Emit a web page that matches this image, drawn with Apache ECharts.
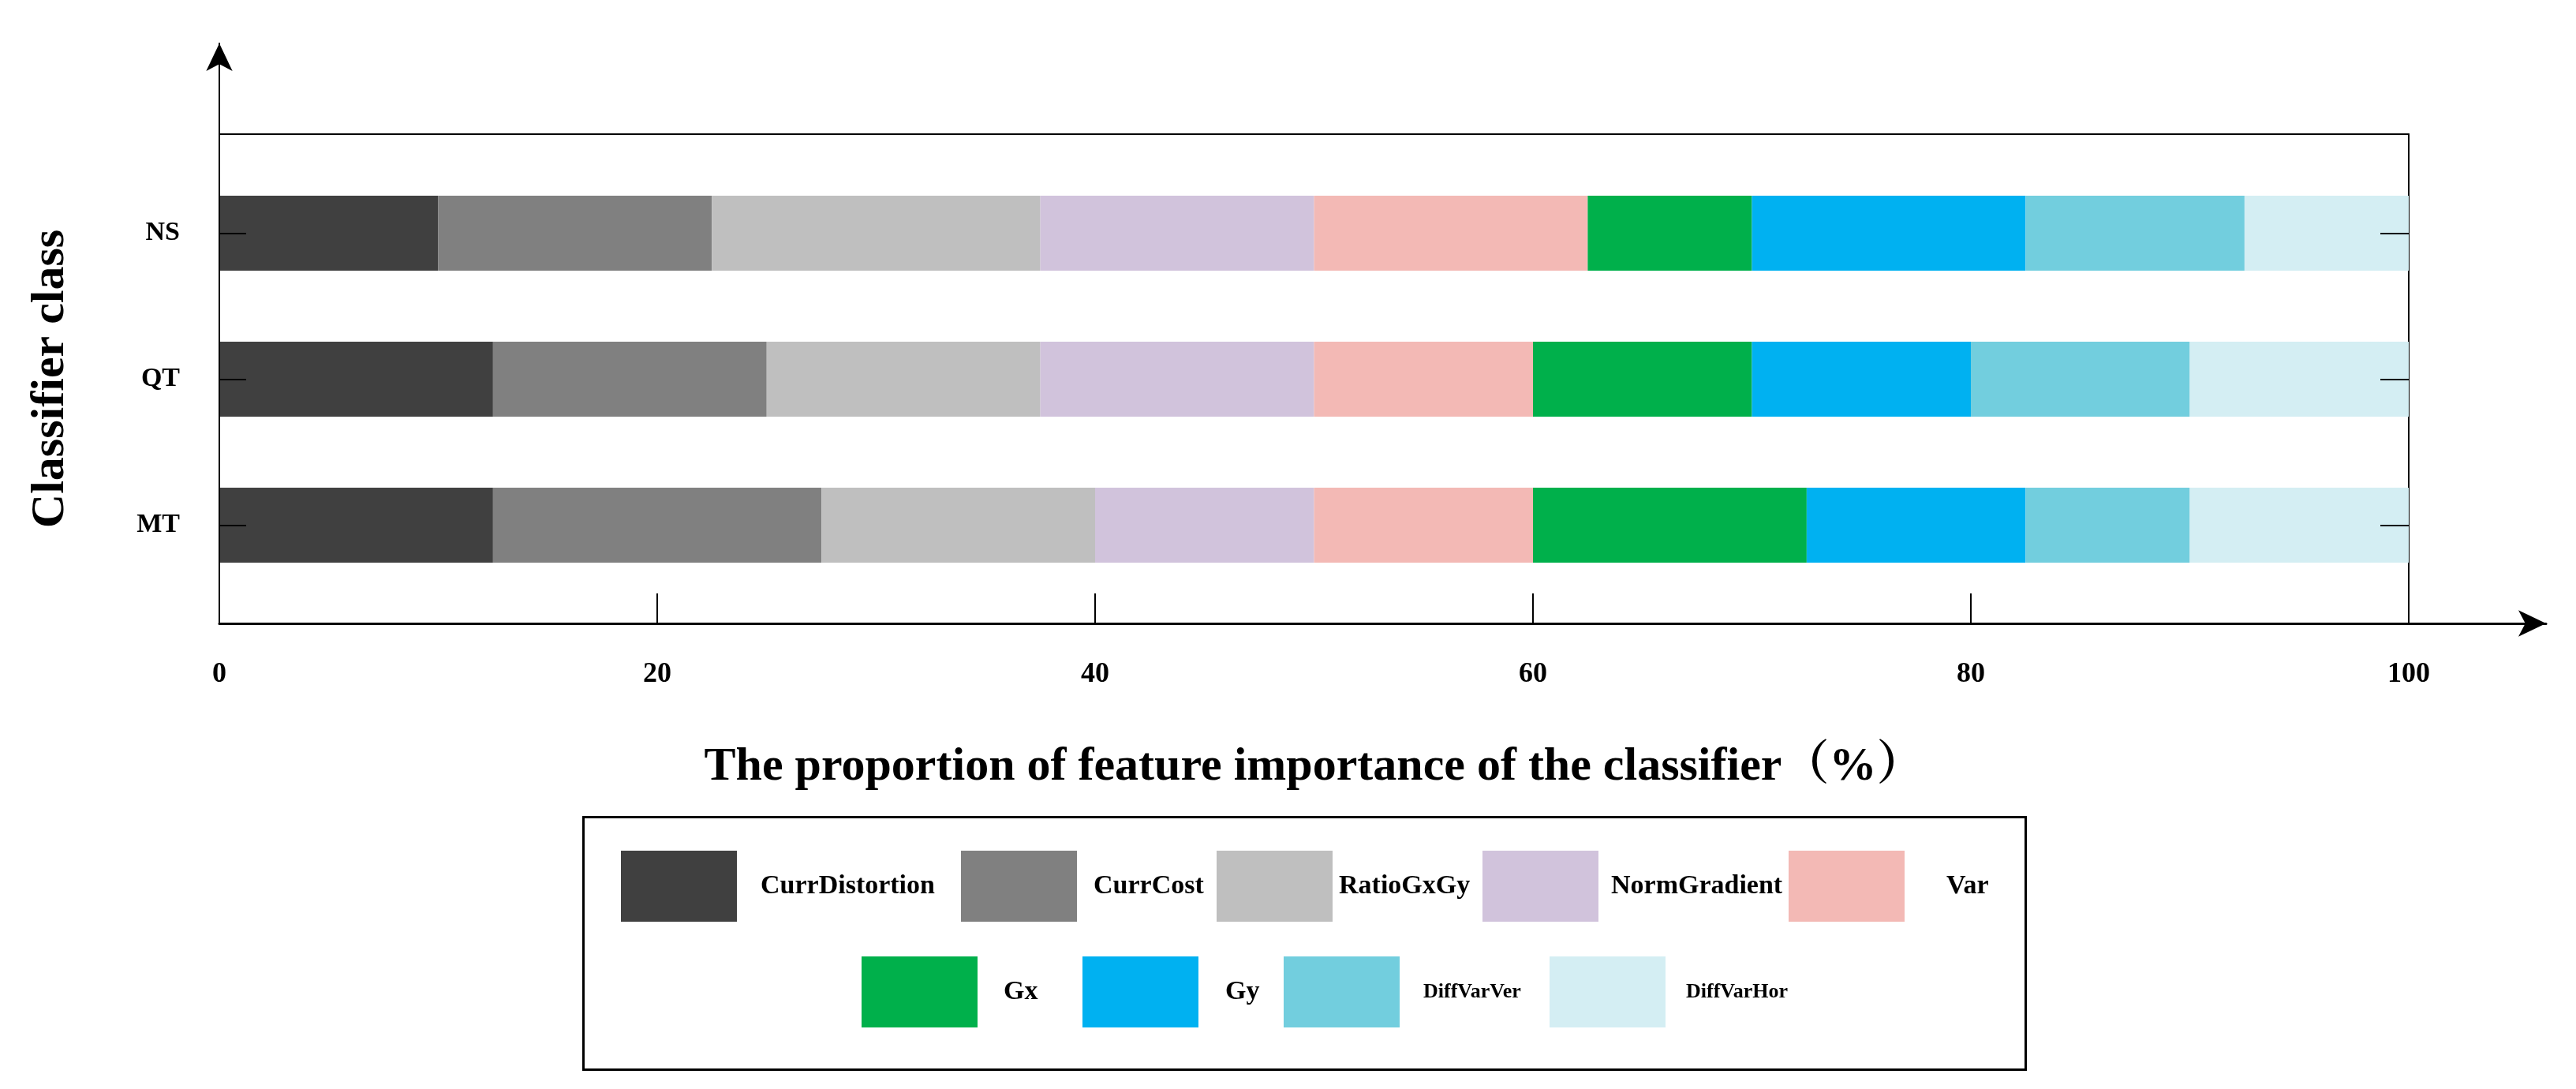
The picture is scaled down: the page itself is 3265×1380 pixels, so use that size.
<!DOCTYPE html>
<html>
<head>
<meta charset="utf-8">
<script src="https://cdn.jsdelivr.net/npm/echarts@6/dist/echarts.min.js"></script>
<style>html,body{margin:0;padding:0;background:#fff;}#c{width:3265px;height:1380px;}</style>
</head>
<body>
<div id="c"></div>
<script>
// ---- data (bottom to top: MT, QT, NS) ----
const categories = ['MT', 'QT', 'NS'];
const seriesNames = ['CurrDistortion', 'CurrCost', 'RatioGxGy', 'NormGradient', 'Var', 'Gx', 'Gy', 'DiffVarVer', 'DiffVarHor'];
const currDistortion = [12.5, 12.5, 10];
const currCost = [15, 12.5, 12.5];
const ratioGxGy = [12.5, 12.5, 15];
const normGradient = [10, 12.5, 12.5];
const varValues = [10, 10, 12.5];
const gx = [12.5, 10, 7.5];
const gy = [10, 10, 12.5];
const diffVarVer = [7.5, 10, 10];
const diffVarHor = [10, 10, 7.5];
const xMin = 0, xMax = 100, xStep = 20;
const xAxisTitle = 'The proportion of feature importance of the classifier（%）';
const yAxisTitle = 'Classifier class';

const seriesValues = [currDistortion, currCost, ratioGxGy, normGradient, varValues, gx, gy, diffVarVer, diffVarHor];
const colors = ['#404040', '#808080', '#BFBFBF', '#D1C3DC', '#F3B9B5', '#00B04B', '#00B1F1', '#72CEDE', '#D4EEF3'];

const FONT = "'Liberation Serif', 'Times New Roman', 'Noto Serif CJK SC', 'Noto Sans CJK SC', serif";

// legend layout (per item)
const legendLayout = [
  {left: 787, top: 1078, gap: 30, fs: 34},
  {left: 1218, top: 1078, gap: 21, fs: 34},
  {left: 1542, top: 1078, gap: 8, fs: 34},
  {left: 1879, top: 1078, gap: 16, fs: 34},
  {left: 2267, top: 1078, gap: 53, fs: 34},
  {left: 1092, top: 1212, gap: 33, fs: 34},
  {left: 1372, top: 1212, gap: 34, fs: 34},
  {left: 1627, top: 1212, gap: 30, fs: 26},
  {left: 1964, top: 1212, gap: 26, fs: 26}
];

const chart = echarts.init(document.getElementById('c'));

const legends = seriesNames.map((n, i) => ({
  data: [n],
  left: legendLayout[i].left,
  top: legendLayout[i].top,
  padding: 0,
  itemWidth: 147,
  itemHeight: 90,
  icon: 'rect',
  selectedMode: false,
  textStyle: {
    fontFamily: FONT, fontWeight: 'bold', fontSize: legendLayout[i].fs, color: '#000',
    padding: [0, 0, 0, legendLayout[i].gap - 5]
  }
}));

const hiddenValueAxisParts = {
  axisTick: {show: false}, axisLabel: {show: false}, splitLine: {show: false}
};

const option = {
  backgroundColor: '#fff',
  animation: false,
  color: colors,
  legend: legends,
  grid: [
    {left: 278, right: 212, top: 203, bottom: 1380 - 758, containLabel: false},
    {left: 278, right: 212, top: 170, bottom: 590, containLabel: false},
    {left: 278, right: 38, top: 55, bottom: 590, containLabel: false}
  ],
  xAxis: [
    {gridIndex: 0, type: 'value', min: xMin, max: xMax, show: false},
    {
      gridIndex: 1, type: 'value', position: 'bottom', min: xMin, max: xMax, interval: xStep, z: 5,
      axisLine: {show: false, onZero: false},
      axisTick: {show: true, inside: true, length: 38, lineStyle: {color: '#000', width: 2}},
      axisLabel: {show: true, margin: 47, fontFamily: FONT, fontWeight: 'bold', fontSize: 36, color: '#000'},
      splitLine: {show: false},
      name: xAxisTitle, nameLocation: 'middle', nameGap: 152,
      nameTextStyle: {fontFamily: FONT, fontWeight: 'bold', fontSize: 60, color: '#000'}
    },
    Object.assign({gridIndex: 1, type: 'value', position: 'top', min: xMin, max: xMax, z: 5,
      axisLine: {show: true, onZero: false, lineStyle: {color: '#000', width: 2}}}, hiddenValueAxisParts),
    Object.assign({gridIndex: 2, type: 'value', position: 'bottom', min: 0, max: 1, z: 5,
      axisLine: {show: true, onZero: false, symbol: ['none', 'arrow'], symbolSize: [25, 35], lineStyle: {color: '#000', width: 3}}}, hiddenValueAxisParts)
  ],
  yAxis: [
    {
      gridIndex: 0, type: 'category', data: categories, position: 'left', z: 5,
      axisLine: {show: false, onZero: false},
      axisTick: {show: true, inside: true, alignWithLabel: true, length: 34, lineStyle: {color: '#000', width: 2}},
      axisLabel: {show: true, margin: 50, fontFamily: FONT, fontWeight: 'bold', fontSize: 34, color: '#000'}
    },
    {
      gridIndex: 0, type: 'category', data: categories, position: 'right', z: 5,
      axisLine: {show: false, onZero: false},
      axisTick: {show: true, inside: true, alignWithLabel: true, length: 36, lineStyle: {color: '#000', width: 2}},
      axisLabel: {show: false}
    },
    Object.assign({gridIndex: 1, type: 'value', position: 'right', min: 0, max: 1, z: 0,
      axisLine: {show: true, onZero: false, lineStyle: {color: '#000', width: 2}}}, hiddenValueAxisParts),
    Object.assign({gridIndex: 1, type: 'value', position: 'left', min: 0, max: 1,
      axisLine: {show: false, onZero: false},
      name: yAxisTitle, nameLocation: 'middle', nameGap: 184, nameRotate: 90,
      nameTextStyle: {fontFamily: FONT, fontWeight: 'bold', fontSize: 60, color: '#000'}}, hiddenValueAxisParts),
    Object.assign({gridIndex: 2, type: 'value', position: 'left', min: 0, max: 1, z: 5,
      axisLine: {show: true, onZero: false, symbol: ['none', 'arrow'], symbolSize: [25, 35], lineStyle: {color: '#000', width: 2}}}, hiddenValueAxisParts)
  ],
  graphic: [{
    type: 'rect', left: 737, top: 1033, z: -1,
    shape: {width: 1828, height: 320},
    style: {fill: 'none', stroke: '#000', lineWidth: 3}
  }],
  series: seriesNames.map((n, i) => ({
    name: n, type: 'bar', stack: 'total', xAxisIndex: 0, yAxisIndex: 0,
    barWidth: 95, data: seriesValues[i], itemStyle: {color: colors[i]}
  }))
};
chart.setOption(option);
</script>
</body>
</html>
